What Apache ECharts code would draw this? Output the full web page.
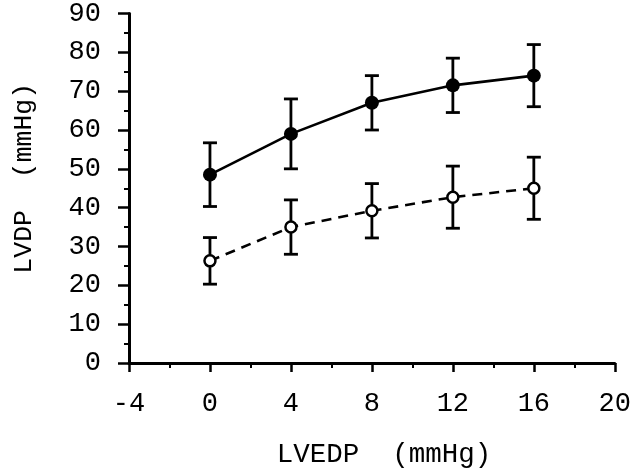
<!DOCTYPE html>
<html><head><meta charset="utf-8">
<script src="https://cdn.jsdelivr.net/npm/echarts@6/dist/echarts.min.js"></script>
<style>html,body{margin:0;padding:0;background:#fff}#c{width:634px;height:474px}</style>
</head><body><div id="c"></div>
<script>
const lvedp = [0, 4, 8, 12, 16];
const solidMean = [48.5, 59, 67, 71.5, 74];
const solidSD = [8.2, 9, 7, 7, 8];
const openMean = [26.3, 35, 39.2, 42.7, 45];
const openSD = [6, 7, 7, 8, 8];
const xTicks = [-4, 0, 4, 8, 12, 16, 20];
const yTicks = [0, 10, 20, 30, 40, 50, 60, 70, 80, 90];

const FONT = '"Liberation Mono", "DejaVu Sans Mono", monospace';
const chart = echarts.init(document.getElementById('c'), null, {renderer: 'canvas'});

function errSeries(mean, sd) {
  return {
    type: 'custom',
    data: lvedp.map((x, i) => [x, mean[i] - sd[i], mean[i] + sd[i]]),
    z: 1,
    renderItem: function (params, api) {
      const lo = api.coord([api.value(0), api.value(1)]);
      const hi = api.coord([api.value(0), api.value(2)]);
      const w = 7;
      const st = {stroke: '#000', lineWidth: 2.8};
      return {type: 'group', children: [
        {type: 'line', shape: {x1: lo[0], y1: lo[1], x2: hi[0], y2: hi[1]}, style: st},
        {type: 'line', shape: {x1: lo[0] - w, y1: lo[1], x2: lo[0] + w, y2: lo[1]}, style: st},
        {type: 'line', shape: {x1: hi[0] - w, y1: hi[1], x2: hi[0] + w, y2: hi[1]}, style: st}
      ]};
    }
  };
}

chart.setOption({
  animation: false,
  backgroundColor: '#fff',
  grid: {left: 129, right: 19, top: 13, bottom: 105},
  xAxis: {
    type: 'value', min: -4, max: 20, interval: 4,
    axisLine: {onZero: false, lineStyle: {color: '#000', width: 3}},
    axisTick: {length: 9, lineStyle: {color: '#000', width: 2.5}},
    minorTick: {show: true, splitNumber: 2, length: 5, lineStyle: {color: '#000', width: 2}},
    splitLine: {show: false},
    axisLabel: {color: '#000', fontFamily: FONT, fontSize: 27, margin: 27,
      formatter: v => xTicks.includes(v) ? String(v) : ''},
    name: 'LVEDP  (mmHg)', nameLocation: 'middle', nameGap: 78,
    nameTextStyle: {color: '#000', fontFamily: FONT, fontSize: 27.5, padding: [0, 0, 0, 24]}
  },
  yAxis: {
    type: 'value', min: 0, max: 90, interval: 10,
    axisLine: {onZero: false, lineStyle: {color: '#000', width: 3}},
    axisTick: {length: 11, lineStyle: {color: '#000', width: 2.5}},
    minorTick: {show: true, splitNumber: 2, length: 5, lineStyle: {color: '#000', width: 2}},
    splitLine: {show: false},
    axisLabel: {color: '#000', fontFamily: FONT, fontSize: 27, margin: 28,
      formatter: v => yTicks.includes(v) ? String(v) : ''},
    name: 'LVDP  (mmHg)', nameLocation: 'middle', nameGap: 92,
    nameTextStyle: {color: '#000', fontFamily: FONT, fontSize: 26.5, padding: [0, 0, 0, 20]}
  },
  series: [
    errSeries(solidMean, solidSD),
    errSeries(openMean, openSD),
    {
      type: 'line', data: lvedp.map((x, i) => [x, solidMean[i]]), z: 3,
      symbol: 'circle', symbolSize: 14,
      lineStyle: {color: '#000', width: 2.6},
      itemStyle: {color: '#000', borderColor: '#000', borderWidth: 0}
    },
    {
      type: 'line', data: lvedp.map((x, i) => [x, openMean[i]]), z: 3,
      symbol: 'circle', symbolSize: 11,
      lineStyle: {color: '#000', width: 2.6, type: [10, 7]},
      itemStyle: {color: '#fff', borderColor: '#000', borderWidth: 2.5}
    }
  ]
});
</script></body></html>
